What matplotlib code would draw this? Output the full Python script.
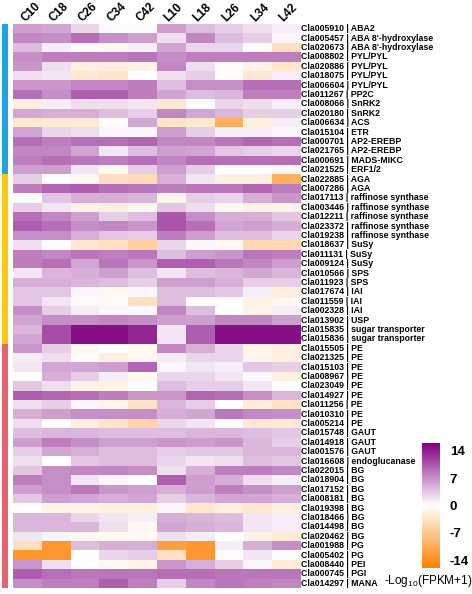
import numpy as np
import matplotlib
matplotlib.use("Agg")
from matplotlib import pyplot as plt
from matplotlib.colors import LinearSegmentedColormap, ListedColormap

plt.rcParams["font.family"] = ["Liberation Sans", "DejaVu Sans"]
plt.rcParams["mathtext.default"] = "regular"
plt.rcParams["axes.unicode_minus"] = False

samples = ["C10", "C18", "C26", "C34", "C42", "L10", "L18", "L26", "L34", "L42"]

gene_ids = [
    "Cla005910", "Cla005457", "Cla020673", "Cla008802", "Cla020886", "Cla018075",
    "Cla006604", "Cla011267", "Cla008066", "Cla020180", "Cla006634", "Cla015104",
    "Cla000701", "Cla021765", "Cla000691", "Cla021525", "Cla022885", "Cla007286",
    "Cla017113", "Cla003446", "Cla012211", "Cla023372", "Cla019238", "Cla018637",
    "Cla011131", "Cla009124", "Cla010566", "Cla011923", "Cla017674", "Cla011559",
    "Cla002328", "Cla013902", "Cla015835", "Cla015836", "Cla015505", "Cla021325",
    "Cla015103", "Cla008967", "Cla023049", "Cla014927", "Cla011256", "Cla010310",
    "Cla005214", "Cla015748", "Cla014918", "Cla001576", "Cla016608", "Cla022015",
    "Cla018904", "Cla017152", "Cla008181", "Cla019398", "Cla018466", "Cla014498",
    "Cla020462", "Cla001988", "Cla005402", "Cla008440", "Cla000745", "Cla014297",
]

gene_names = [
    "ABA2", "ABA 8'-hydroxylase", "ABA 8'-hydroxylase", "PYL/PYL", "PYL/PYL", "PYL/PYL",
    "PYL/PYL", "PP2C", "SnRK2", "SnRK2", "ACS", "ETR",
    "AP2-EREBP", "AP2-EREBP", "MADS-MIKC", "ERF1/2", "AGA", "AGA",
    "raffinose synthase", "raffinose synthase", "raffinose synthase", "raffinose synthase",
    "raffinose synthase", "SuSy",
    "SuSy", "SuSy", "SPS", "SPS", "IAI", "IAI",
    "IAI", "USP", "sugar transporter", "sugar transporter", "PE", "PE",
    "PE", "PE", "PE", "PE", "PE", "PE",
    "PE", "GAUT", "GAUT", "GAUT", "endoglucanase", "BG",
    "BG", "BG", "BG", "BG", "BG", "BG",
    "BG", "PG", "PG", "PEI", "PGI", "MANA",
]

# -Log10(FPKM+1) values, one row per gene, columns as in samples
values = [
    [6, 5.5, 2.5, 0.3, 0.2, 6, 4, 3, 2, 1],
    [7.5, 7, 9, 7, 6, 2, 7.5, 4, 3, 0.5],
    [4, 1, -0.5, -1, 1, 5.5, 2.5, 2.5, -0.5, -4],
    [7, 8, 8, 8, 8.5, 7, 8, 8, 8, 8],
    [6.5, 2, -2, -2, -1.5, 7.5, 2, -0.5, -1.5, -3],
    [2, 1.5, -3, -3.5, 0, 2, 3, -0.5, -3, 1],
    [6.5, 6.5, 7.5, 7.5, 8, 4, 7, 7, 9, 9],
    [9, 7, 10, 10, 8, 5.5, 4, 4.5, 8, 8],
    [-2, 1, 2, 2, 1.5, -3, 0, 2.5, 2, 1],
    [5.5, 5, 5, 4, 3, 7.5, 5.5, 4.5, 3, 3],
    [-3, -2.5, -2.5, -0.5, 5.5, -3.5, -3, -10, -2, 1],
    [5.5, 2.5, 2, 0.5, 0.5, 6, 3, 1, 1, 0.5],
    [9, 8, 9, 9, 9.5, 7.5, 7.5, 8.5, 9.5, 9],
    [7.5, 7.5, 5.5, 1.5, 4, 6, 5.5, 3.5, 3, 2.5],
    [8, 9, 8.5, 8, 9, 7.5, 9, 9, 9, 9],
    [6, 6, 1.5, -1, 3, 6, 3, 0, 0, 0.5],
    [3, 0, -1, -4, -4.5, 5, 1.5, -2, -2, -10],
    [8, 9.5, 10, 9, 8.5, 8, 8.5, 8.5, 9.5, 8],
    [0, 3.5, 5, 5, 4.5, -1, 3, 2.5, 5, 6.5],
    [3, 1.5, -1.5, -2, -1, 3.5, 2, -1, -1.5, -1.5],
    [9, 7.5, 6, 3, 4, 10.5, 7, 5, 5, 3.5],
    [10, 9, 7, 7.5, 6.5, 10.5, 9, 5.5, 6, 5],
    [7, 7, 5, 3.5, 3, 8, 6, 4, 4, 2.5],
    [2, 0.2, -3, -4, -6, 2.5, 0.5, -1, -5, -5],
    [8, 7.5, 8.5, 8, 8.5, 4, 6, 6.5, 8.5, 8],
    [8, 9, 5.5, 8.5, 6.5, 10, 10, 8.5, 7.5, 6],
    [1.5, 4.5, 5, 6, 4, 1.5, 4, 4.5, 5.5, 4.5],
    [5, 5, 4.5, 4, 3, 6, 6, 5, 3, 3],
    [3.5, 3.5, 0.5, -1, 0.5, 4, 4, 3.5, 1, -2],
    [3.5, 1.5, -0.5, -0.5, -4, 4, -0.3, 0, -1.5, -1],
    [7, 3, 1, 0.5, 0.5, 7.5, 4, 0, -1.5, 1],
    [5.5, 7, 7, 7.5, 7, 6, 6, 7.5, 7.5, 6],
    [4.5, 11, 15, 15, 13.5, 1.5, 10, 15, 15, 15],
    [5.5, 11, 15, 15, 13.5, 1.5, 10, 15, 15, 15],
    [6.5, 3, -1, 0, -1, 7.5, 5, 2.5, -1.5, -2],
    [1, 2, -0.3, -2, -1, 1, 2.5, 2.5, -1, -2],
    [1.5, 5.5, 5.5, 6, 9.5, 0.5, 1.5, 1, 3.5, 3],
    [0, 5, 3, 1, -1, 2.5, 2.5, 1.5, 0.5, -2],
    [3.5, 2, -1.5, -1.5, 0, 4, 3, 3, 1.5, 0],
    [10, 9.5, 9, 8, 6.5, 6.5, 9.5, 9, 7, 4.5],
    [2, 3, 0.5, -1.5, -3.5, 4.5, 3, 0, -2.5, -3.5],
    [5, 6, 7, 7, 7, 5, 5.5, 8.5, 7.5, 7],
    [2, 0, -2, -3.5, -5.5, 2.5, 1.5, 0, -3, -3],
    [4, 4.5, 4.5, 4, 4, 4, 4.5, 4.5, 4, 3.5],
    [6, 8, 7, 6, 6, 6.5, 6, 6.5, 4.5, 3],
    [3, 5.5, 5, 4, 4, 3, 3.5, 3.5, 4.5, 4.5],
    [2, 0, 3.5, 4, 4, 2.5, 1.5, 2, 4, 3.5],
    [3.5, 7, 7.5, 7.5, 7, 2, 5, 8, 8, 7.5],
    [8, 7, 1.5, 0.5, 0, 10, 6, 5, 2, 1],
    [6, 7, 8.5, 6.5, 6, 5, 6, 8, 7, 6],
    [3.5, 6, 5.5, 5, 5.5, 3, 4.5, 5.5, 5.5, 5],
    [0, -1.5, -1.5, -2, -2, 0.5, -3, -2, -3, -2],
    [4.5, 4.5, 2.5, 1.5, 1, 5, 4.5, 4, 1.5, 1],
    [4.5, 4.5, 4.5, 2, -1, 5.5, 5, 4.5, 1.5, 1],
    [1.5, 0.5, -1, -1, -1, 2, 1, 0, -1.5, -2.5],
    [-4, -13, 4, 5, 5, -12, -13, 1, 5, 7],
    [-13, -13, -0.3, 2.5, 3, -4, -13, -0.3, 1.5, 0.3],
    [6.5, 2, 0, -1, -1.5, 6.5, 5, 3, 0.5, -2.5],
    [10, 9, 8.5, 8.5, 8.5, 9, 9, 8.5, 8.5, 8.5],
    [7, 8, 8, 10, 8, 3, 7.5, 8.5, 8, 7.5],
]

# pathway groups on the left strip: number of genes and colour
group_sizes = [16, 18, 26]
group_colors = ["#1ba3e3", "#fec80f", "#e8626f"]

cbar_ticks = [14, 7, 0, -7, -14]

data = np.array(values)
cmap = LinearSegmentedColormap.from_list("og", ["#ff8000", "#ffffff", "#800080"])

fig = plt.figure(figsize=(4.72, 5.94), dpi=100)
W, H = 472, 594

def px_axes(x0, y0, x1, y1):
    return fig.add_axes([x0 / W, 1 - y1 / H, (x1 - x0) / W, (y1 - y0) / H])

ax = px_axes(13, 24, 300, 588)
im = ax.imshow(data, cmap=cmap, vmin=-16, vmax=16, aspect="auto", interpolation="nearest")
ax.set_xticks([])
ax.set_yticks([])
for s in ax.spines.values():
    s.set_visible(False)
for i, s in enumerate(samples):
    ax.text(i, -0.45, s, rotation=45, rotation_mode="anchor", ha="left", va="bottom",
            fontsize=8.5, fontweight="bold")
for j in range(len(gene_ids)):
    ax.text(len(samples) - 0.45, j, f"{gene_ids[j]} | {gene_names[j]}", ha="left",
            va="center", fontsize=6.3, fontweight="bold")

# side strip
side = px_axes(2, 24, 8, 588)
grp = np.repeat(np.arange(len(group_sizes)), group_sizes)[:, None]
side.imshow(grp, cmap=ListedColormap(group_colors), aspect="auto", interpolation="nearest")
side.axis("off")

cax = px_axes(422, 443, 440, 568)
cb = fig.colorbar(im, cax=cax, ticks=cbar_ticks)
cb.outline.set_visible(False)
cax.tick_params(length=0, pad=7, labelsize=9.5)
for t in cax.get_yticklabels():
    t.set_fontweight("bold")
fig.text(428 / W, 1 - 581 / H, r"-Log$_{10}$(FPKM+1)", ha="center", va="center", fontsize=8.5)

fig.savefig("out.png", dpi=100)
